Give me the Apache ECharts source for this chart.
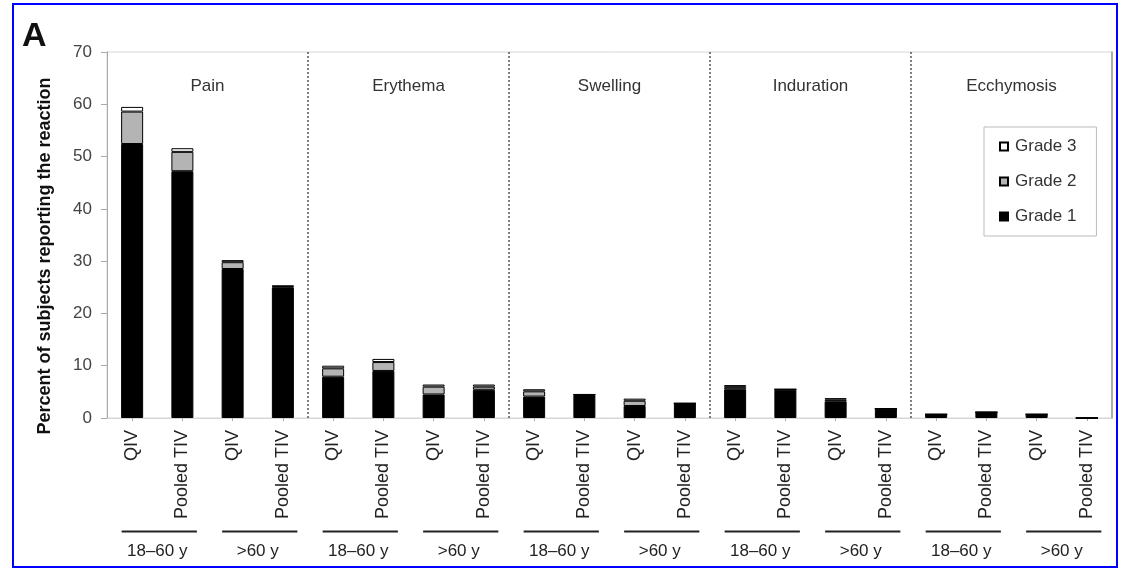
<!DOCTYPE html>
<html><head><meta charset="utf-8">
<script src="https://cdn.jsdelivr.net/npm/echarts@6/dist/echarts.min.js"></script>
<style>html,body{margin:0;padding:0;background:#fff}#c{width:1121px;height:569px}</style>
</head><body><div id="c"></div>
<script>
// ---- data ----
const categories = ['QIV','Pooled TIV','QIV','Pooled TIV','QIV','Pooled TIV','QIV','Pooled TIV','QIV','Pooled TIV',
                    'QIV','Pooled TIV','QIV','Pooled TIV','QIV','Pooled TIV','QIV','Pooled TIV','QIV','Pooled TIV'];
const panels = ['Pain','Erythema','Swelling','Induration','Ecchymosis'];
const ageGroups = ['18–60 y','>60 y','18–60 y','>60 y','18–60 y','>60 y','18–60 y','>60 y','18–60 y','>60 y'];
const grade1 = [52.4, 47.2, 28.5, 25.0, 7.9, 9.0, 4.5, 5.4, 4.1, 4.4, 2.3, 2.8, 5.5, 5.4, 3.2, 1.8, 0.7, 1.1, 0.7, 0];
const grade2 = [6.2, 3.7, 1.3, 0.2, 1.6, 1.7, 1.5, 0.6, 1.0, 0.1, 1.0, 0, 0.4, 0.1, 0.3, 0, 0, 0, 0, 0];
const grade3 = [0.9, 0.7, 0.4, 0.1, 0.5, 0.6, 0.4, 0.4, 0.4, 0, 0.4, 0, 0.4, 0, 0.3, 0, 0, 0, 0, 0];
const yMin = 0, yMax = 70, yStep = 10;

const FONT = 'Liberation Sans';
const chart = echarts.init(document.getElementById('c'), null, {renderer: 'canvas'});

function barSeries(name, data, color) {
  return {
    name, type: 'bar', stack: 'g', data, xAxisIndex: 0, yAxisIndex: 0,
    barWidth: 22,
    itemStyle: {color, borderColor: '#000', borderWidth: 1},
    emphasis: {disabled: true}
  };
}

chart.setOption({
  animation: false,
  backgroundColor: '#fff',
  textStyle: {fontFamily: FONT},
  grid: {left: 107, right: 9, top: 52, bottom: 151, show: true, borderColor: '#d6d6d6', borderWidth: 1},
  legend: {
    data: ['Grade 3','Grade 2','Grade 1'],
    orient: 'vertical',
    left: 984, top: 127,
    padding: [11, 20, 11, 15],
    itemGap: 18,
    itemWidth: 8, itemHeight: 8,
    icon: 'rect',
    borderColor: '#bbb', borderWidth: 1,
    selectedMode: false,
    textStyle: {fontSize: 17, color: '#333', fontFamily: FONT, padding: [0,0,0,2]}
  },
  xAxis: [
    {
      type: 'category', data: categories, position: 'bottom',
      axisLine: {lineStyle: {color: '#d6d6d6'}},
      axisTick: {show: true, alignWithLabel: true, length: 3, lineStyle: {color: '#aaa'}},
      axisLabel: {rotate: 90, fontSize: 18, color: '#222', margin: 12, fontFamily: FONT, interval: 0}
    },
    {
      type: 'category', data: panels, position: 'top',
      axisLine: {show: false}, axisTick: {show: false},
      axisLabel: {inside: true, margin: 26, fontSize: 17, color: '#333', fontFamily: FONT},
      splitLine: {show: true, showMinLine: false, showMaxLine: false,
                  lineStyle: {color: '#555', type: [2, 2], width: 1.5}}
    },
    {
      type: 'category', data: ageGroups, position: 'bottom', offset: 113,
      axisLine: {show: false}, axisTick: {show: false},
      axisLabel: {fontSize: 17, color: '#222', margin: 12, fontFamily: FONT, interval: 0}
    }
  ],
  yAxis: [
    {
      type: 'value', min: yMin, max: yMax, interval: yStep,
      axisLine: {show: true, lineStyle: {color: '#aaa'}},
      axisTick: {show: true, length: 6, lineStyle: {color: '#aaa'}},
      splitLine: {show: false},
      axisLabel: {fontSize: 17, color: '#444', margin: 15, fontFamily: FONT}
    },
    {
      type: 'value', min: yMin, max: yMax, interval: yStep, position: 'right',
      axisLine: {show: true, lineStyle: {color: '#999', width: 1.5}},
      axisTick: {show: false}, axisLabel: {show: false}, splitLine: {show: false}
    }
  ],
  series: [
    barSeries('Grade 1', grade1, '#000'),
    barSeries('Grade 2', grade2, '#b4b4b4'),
    barSeries('Grade 3', grade3, '#fff')
  ],
  graphic: [
    {type: 'rect', id: 'frame', shape: {x: 13, y: 4, width: 1104, height: 563},
     style: {fill: 'none', stroke: '#0000ff', lineWidth: 2}, silent: true},
    {type: 'text', id: 'A', left: 22, top: 20,
     style: {text: 'A', font: 'bold 34px "Liberation Sans"', fill: '#111'}},
    {type: 'text', id: 'ytitle', x: 45, y: 256, rotation: Math.PI / 2,
     style: {text: 'Percent of subjects reporting the reaction', font: 'bold 18px "Liberation Sans"',
             fill: '#111', align: 'center', verticalAlign: 'middle'}}
  ]
});

// group underlines derived from the category axis scale
const base = chart.convertToPixel({yAxisIndex: 0}, yMin);
const lines = [];
for (let k = 0; k < ageGroups.length; k++) {
  const x0 = chart.convertToPixel({xAxisIndex: 0}, 2 * k);
  const x1 = chart.convertToPixel({xAxisIndex: 0}, 2 * k + 1);
  lines.push({type: 'line', id: 'ul' + k, silent: true,
    shape: {x1: x0 - 10.5, y1: base + 113.5, x2: x1 + 14.5, y2: base + 113.5},
    style: {stroke: '#222', lineWidth: 2}});
}
chart.setOption({graphic: lines});
</script></body></html>
